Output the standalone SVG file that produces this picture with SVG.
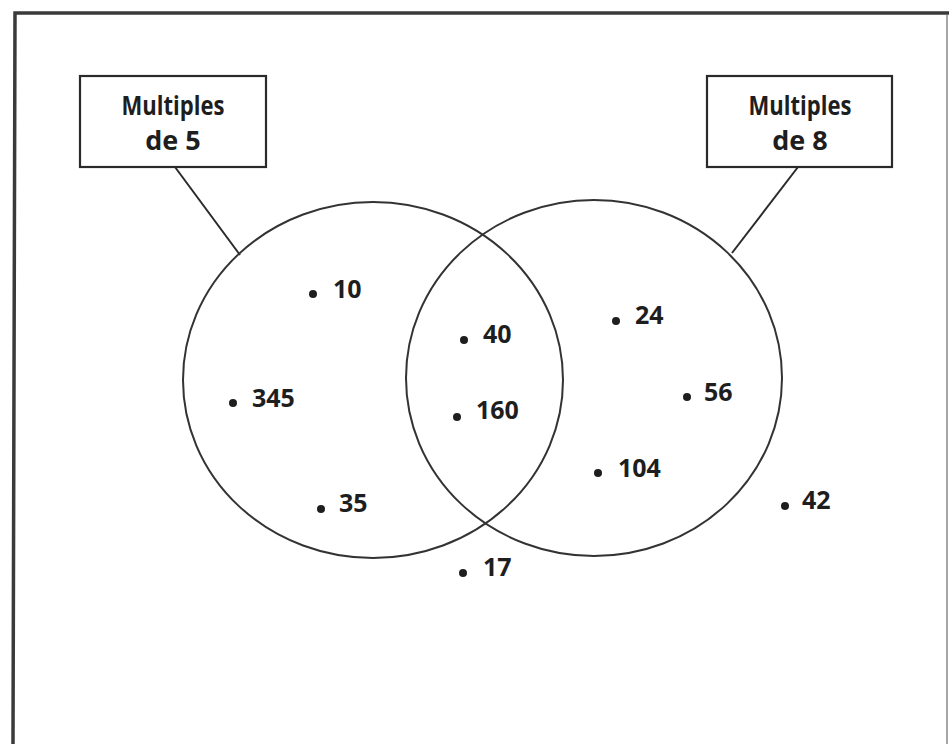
<svg xmlns="http://www.w3.org/2000/svg" width="949" height="744" viewBox="0 0 949 744">
<style>
.frame{fill:none;stroke:#3a3a3a;stroke-width:3.5}
.box{fill:#fff;stroke:#2a2a2a;stroke-width:2.2}
.set{fill:none;stroke:#333;stroke-width:2}
.conn{stroke:#2a2a2a;stroke-width:2;fill:none}
.lbl{font-family:"Open Sans","DejaVu Sans",sans-serif;font-weight:700;font-size:27px;fill:#1e1e1e;text-anchor:middle}
.num{font-family:"Open Sans","DejaVu Sans",sans-serif;font-weight:700;font-size:25px;fill:#1e1e1e}
.dot{fill:#1e1e1e}
</style>
<rect width="949" height="744" fill="#fff"/>
<path class="frame" d="M13,744 L15,13 L949,13"/>
<line x1="947" y1="15" x2="947" y2="744" stroke="#888" stroke-width="1.5"/>
<g id="connectors">
<line class="conn" x1="175" y1="167" x2="240" y2="255"/>
<line class="conn" x1="798" y1="167" x2="732" y2="253"/>
</g>
<g id="set5"><ellipse class="set" cx="373" cy="380" rx="190" ry="178"/></g>
<g id="set8"><ellipse class="set" cx="594" cy="378" rx="188" ry="178"/></g>
<g id="label5">
<rect class="box" x="80" y="76" width="186" height="91"/>
<text class="lbl" x="173" y="115" textLength="103" lengthAdjust="spacingAndGlyphs">Multiples</text>
<text class="lbl" x="173" y="150">de 5</text>
</g>
<g id="label8">
<rect class="box" x="707" y="76" width="185" height="91"/>
<text class="lbl" x="800" y="115" textLength="103" lengthAdjust="spacingAndGlyphs">Multiples</text>
<text class="lbl" x="800" y="150">de 8</text>
</g>
<g id="n10"><circle class="dot" cx="313" cy="294" r="4"/><text class="num" x="333" y="298">10</text></g>
<g id="n345"><circle class="dot" cx="233" cy="403" r="4"/><text class="num" x="252" y="407">345</text></g>
<g id="n35"><circle class="dot" cx="321" cy="509" r="4"/><text class="num" x="339" y="512">35</text></g>
<g id="n40"><circle class="dot" cx="464" cy="340" r="4"/><text class="num" x="483" y="343">40</text></g>
<g id="n160"><circle class="dot" cx="457" cy="417" r="4"/><text class="num" x="476" y="419">160</text></g>
<g id="n17"><circle class="dot" cx="463" cy="573" r="4"/><text class="num" x="483" y="576">17</text></g>
<g id="n24"><circle class="dot" cx="616" cy="321" r="4"/><text class="num" x="635" y="324">24</text></g>
<g id="n56"><circle class="dot" cx="687" cy="397" r="4"/><text class="num" x="704" y="401">56</text></g>
<g id="n104"><circle class="dot" cx="598" cy="473" r="4"/><text class="num" x="618" y="477">104</text></g>
<g id="n42"><circle class="dot" cx="785" cy="506" r="4"/><text class="num" x="802" y="509">42</text></g>
</svg>
